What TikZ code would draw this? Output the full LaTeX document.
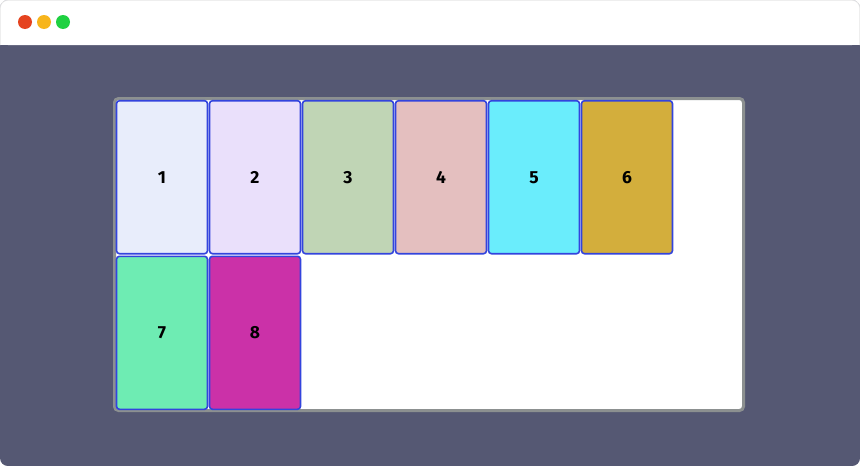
\documentclass[tikz,border=0pt]{standalone}
\usepackage{fontspec}
\setmainfont{Fira Sans}
\usetikzlibrary{positioning}
\definecolor{window-bg}{HTML}{555873}
\definecolor{border-gray}{HTML}{8C9090}
\definecolor{item-blue}{HTML}{3344DD}
\definecolor{dot-red}{HTML}{E5431F}
\definecolor{dot-yellow}{HTML}{F7B51C}
\definecolor{dot-green}{HTML}{1FD141}
\definecolor{c1}{HTML}{E8EDFB}
\definecolor{c2}{HTML}{EAE0FB}
\definecolor{c3}{HTML}{C0D5B5}
\definecolor{c4}{HTML}{E4BFBF}
\definecolor{c5}{HTML}{6AEDFC}
\definecolor{c6}{HTML}{D3AE3C}
\definecolor{c7}{HTML}{6EECB3}
\definecolor{c8}{HTML}{CB31A8}
\tikzset{
    flex-item/.style={
        draw=item-blue, line width=1.6pt, rounded corners=3pt,
        minimum width=91pt, minimum height=153pt, inner sep=0pt,
        text height=12pt, text depth=0pt,
        font=\bfseries\fontsize{17.5}{17.5}\selectfont
    },
    window-dot/.style={
        circle, minimum size=14pt, inner sep=0pt
    },
}

\begin{document}
\begin{tikzpicture}[x=1pt, y=-1pt, node distance=1pt and 0.4pt]

        % WINDOW
        \useasboundingbox (0,0) rectangle (860,466);
        \fill[window-bg, rounded corners=8pt] (0,0) rectangle (860,466);
        \fill[white, rounded corners=8pt] (0,0) -- (0,45) -- (860,45) -- (860,0) -- cycle;
        \fill[white] (0,30) rectangle (860,45);
        \draw[black!10, line width=0.6pt] (0.3,45) -- (0.3,8) arc (180:270:7.7) -- (852,0.3) arc (-90:0:7.7) -- (859.7,45);

        % WINDOW BUTTONS
        \node[window-dot, fill=dot-red]    (RED)    at (25,22) {};
        \node[window-dot, fill=dot-yellow] (YELLOW) at (44,22) {};
        \node[window-dot, fill=dot-green]  (GREEN)  at (63,22) {};

        % CONTAINER
        \draw[border-gray, fill=white, line width=3pt, rounded corners=4pt] (114.5,98.5) rectangle (743.5,410.5);

        % FIRST ROW
        \node[flex-item, fill=c1] (I1) at (162,177.2) {1};
        \node[flex-item, fill=c2, right=of I1] (I2) {2};
        \node[flex-item, fill=c3, right=of I2] (I3) {3};
        \node[flex-item, fill=c4, right=of I3] (I4) {4};
        \node[flex-item, fill=c5, right=of I4] (I5) {5};
        \node[flex-item, fill=c6, right=of I5] (I6) {6};

        % SECOND ROW
        \node[flex-item, fill=c7, below=of I1] (I7) {7};
        \node[flex-item, fill=c8, below=of I2] (I8) {8};

    \end{tikzpicture}
\end{document}
